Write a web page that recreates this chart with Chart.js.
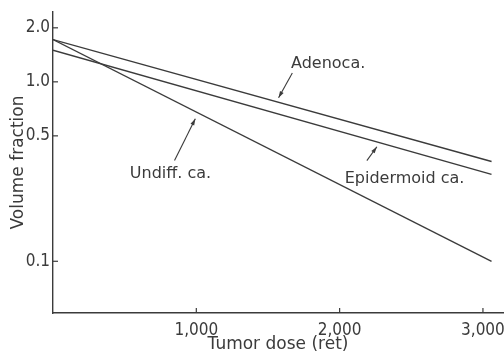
<!DOCTYPE html>
<html>
<head>
<meta charset="utf-8">
<script src="https://cdn.jsdelivr.net/npm/chart.js@4.4.1/dist/chart.umd.min.js"></script>
<style>
  html, body { margin: 0; padding: 0; background: #fff; }
  #wrap { width: 504px; height: 355px; }
</style>
</head>
<body>
<div id="wrap"><canvas id="dose-chart"></canvas></div>
<script>
// values
const doses = [0, 3060];
const adenoca = [1.72, 0.36];
const epidermoid = [1.5, 0.305];
const undiff = [1.72, 0.1];
const xTicks = [1000, 2000, 3000];
const yTicks = [0.1, 0.5, 1.0, 2.0];

// labels with arrows, in data units
const notes = [
	{ text: 'Adenoca.', at: [1920, 1.26], from: [1670, 1.12], to: [1574, 0.815] },
	{ text: 'Epidermoid ca.', at: [2453, 0.289], from: [2190, 0.364], to: [2260, 0.435] },
	{ text: 'Undiff. ca.', at: [820, 0.308], from: [848, 0.364], to: [993, 0.623] }
];

const ink = '#3b3b3b';
const textFont = '"DejaVu Sans", sans-serif';
const tickFont = '"Liberation Sans Narrow", "DejaVu Sans Condensed", sans-serif';

function pts(ys) {
	return doses.map((d, i) => ({ x: d, y: ys[i] }));
}

function series(label, ys) {
	return {
		label: label,
		data: pts(ys),
		borderColor: ink,
		borderWidth: 1.4,
		pointRadius: 0,
		fill: false
	};
}

// ticks pointing into the plot, plus the labels and arrows
const extras = {
	id: 'extras',
	afterDraw(chart) {
		const c = chart.ctx;
		const x = chart.scales.x, y = chart.scales.y;
		c.save();
		c.strokeStyle = ink;
		c.lineWidth = 1.2;
		xTicks.forEach(v => {
			const px = x.getPixelForValue(v);
			c.beginPath();
			c.moveTo(px, y.bottom);
			c.lineTo(px, y.bottom - 5);
			c.stroke();
		});
		yTicks.forEach(v => {
			const py = y.getPixelForValue(v);
			c.beginPath();
			c.moveTo(x.left, py);
			c.lineTo(x.left + 5, py);
			c.stroke();
		});

		c.fillStyle = ink;
		c.font = '16px ' + textFont;
		c.textAlign = 'center';
		c.textBaseline = 'middle';
		notes.forEach(n => {
			c.fillText(n.text, x.getPixelForValue(n.at[0]), y.getPixelForValue(n.at[1]));
			const x0 = x.getPixelForValue(n.from[0]), y0 = y.getPixelForValue(n.from[1]);
			const x1 = x.getPixelForValue(n.to[0]), y1 = y.getPixelForValue(n.to[1]);
			c.lineWidth = 1.1;
			c.beginPath();
			c.moveTo(x0, y0);
			c.lineTo(x1, y1);
			c.stroke();
			const a = Math.atan2(y1 - y0, x1 - x0);
			c.beginPath();
			c.moveTo(x1, y1);
			c.lineTo(x1 - 7 * Math.cos(a - 0.3), y1 - 7 * Math.sin(a - 0.3));
			c.lineTo(x1 - 7 * Math.cos(a + 0.3), y1 - 7 * Math.sin(a + 0.3));
			c.closePath();
			c.fill();
		});
		c.restore();
	}
};

new Chart(document.getElementById('dose-chart').getContext('2d'), {
	type: 'line',
	data: {
		datasets: [
			series('Adenoca.', adenoca),
			series('Epidermoid ca.', epidermoid),
			series('Undiff. ca.', undiff)
		]
	},
	options: {
		responsive: true,
		maintainAspectRatio: false,
		animation: false,
		layout: { padding: { top: 12, right: 1, left: 0, bottom: 0 } },
		plugins: {
			legend: { display: false },
			tooltip: { enabled: false }
		},
		scales: {
			x: {
				type: 'linear',
				min: 0,
				max: 3140,
				afterBuildTicks: s => { s.ticks = xTicks.map(v => ({ value: v })); },
				afterFit: s => {
					s.height = 42;
					s.paddingLeft = 0;
					s.paddingRight = 0;
				},
				grid: { display: false, drawTicks: false },
				border: { display: true, color: ink, width: 1.4 },
				ticks: {
					color: ink,
					padding: 7,
					font: { family: tickFont, size: 17 },
					callback: v => v.toLocaleString('en-US')
				},
				title: {
					display: true,
					text: 'Tumor dose (ret)',
					color: ink,
					font: { family: textFont, size: 17 },
					padding: { top: 0, bottom: 0 }
				}
			},
			y: {
				type: 'logarithmic',
				min: 0.0515,
				max: 2.45,
				afterBuildTicks: s => { s.ticks = yTicks.map(v => ({ value: v })); },
				afterFit: s => {
					s.width = 53;
					s.paddingTop = 0;
					s.paddingBottom = 0;
				},
				grid: { display: false, drawTicks: false },
				border: { display: true, color: ink, width: 1.4 },
				ticks: {
					color: ink,
					padding: 3,
					font: { family: tickFont, size: 17 },
					callback: v => v.toFixed(1)
				},
				title: {
					display: true,
					text: 'Volume fraction',
					color: ink,
					font: { family: textFont, size: 17 },
					padding: { top: 8, bottom: 0 }
				}
			}
		}
	},
	plugins: [extras]
});
</script>
</body>
</html>
